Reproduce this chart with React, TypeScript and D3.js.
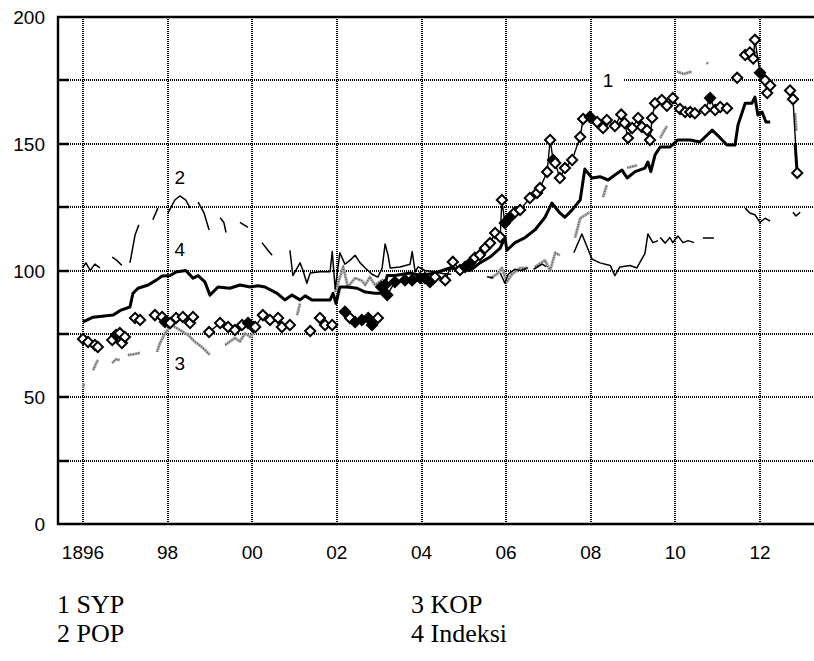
import { useEffect, useRef } from 'react'
import * as d3 from 'd3'

type Pt = [number, number] | null

// years shown on the x axis and their labels
const X_TICKS = [1896, 1898, 1900, 1902, 1904, 1906, 1908, 1910, 1912]
const X_LABELS = ['1896', '98', '00', '02', '04', '06', '08', '10', '12']
const Y_GRID = [25, 50, 75, 100, 125, 150, 175]
const Y_LABELS = [0, 50, 100, 150, 200]

// 1 SYP (diamonds)
const SYP: Pt[] = [
  [1896.0, 73], [1896.12, 71.8], [1896.28, 70.6], [1896.35, 69.8], null,
  [1896.69, 72.6], [1896.78, 74.6], [1896.87, 75.3], [1896.92, 71.4], [1896.99, 73.8], null,
  [1897.23, 81.3], [1897.35, 80.5], null,
  [1897.7, 82.4], [1897.87, 81.7], [1897.94, 79.7], [1898.06, 79.3], [1898.2, 81.3], [1898.36, 81.7], [1898.53, 79.3], [1898.6, 81.7], null,
  [1898.98, 75.7], [1899.24, 79.3], [1899.43, 77.7], [1899.59, 76.5], [1899.76, 78.5], [1899.9, 79.3], [1900.02, 77.7], [1900.07, 77.7],
  [1900.25, 82.4], [1900.42, 80.5], [1900.61, 81.3], [1900.7, 77.7], [1900.89, 78.5], null,
  [1901.37, 76.1], null,
  [1901.6, 81.3], [1901.72, 78.5], [1901.89, 78.5], null,
  [1902.19, 83.7], [1902.31, 81.3], [1902.43, 79.7], [1902.59, 80.5], [1902.74, 81.3], [1902.83, 78.5], [1902.97, 81.3], null,
  [1903.05, 93.5], [1903.14, 94.3], [1903.19, 90.3], [1903.37, 95.5], [1903.61, 96.2], [1903.78, 96.2], [1903.97, 97], [1904.08, 97],
  [1904.2, 95.5], [1904.32, 97.4], [1904.56, 96.2], [1904.74, 103.4], [1904.91, 100.2], [1905.03, 101.4], [1905.15, 103],
  [1905.26, 105], [1905.38, 106.1], [1905.5, 108.8], [1905.62, 110.8], [1905.74, 114.8], [1905.86, 113.2], [1905.9, 127.8],
  [1905.97, 118.7], [1906.09, 121], [1906.21, 123], [1906.33, 123.9], [1906.56, 128.6], [1906.73, 130.6], [1906.8, 132.5],
  [1906.97, 138.9], [1907.04, 151.5], [1907.11, 143.6], [1907.16, 142.4], [1907.27, 136.5], [1907.39, 140.4], [1907.56, 143.6],
  [1907.75, 152.7], [1907.82, 159.8], [1907.98, 160.6], [1908.15, 158.6], [1908.29, 156.2], [1908.38, 159.4], [1908.57, 157],
  [1908.72, 161.5], [1908.8, 158.2], [1908.88, 152.3], [1908.98, 156.2], [1909.12, 160.2], [1909.21, 156.6], [1909.33, 155.4],
  [1909.4, 151.5], [1909.45, 160.2], [1909.52, 166], [1909.68, 167.3], [1909.8, 165], [1909.94, 168], [1910.11, 163.7],
  [1910.23, 162.5], [1910.35, 162.5], [1910.46, 162], [1910.7, 163.3], [1910.82, 168], [1910.94, 163.3], [1911.06, 164.5], [1911.22, 164], null,
  [1911.46, 176], null,
  [1911.65, 185], [1911.76, 186], [1911.84, 183.6], [1911.88, 191], [1912.0, 178], [1912.12, 175], [1912.17, 170], [1912.24, 173], null,
  [1912.71, 171], [1912.78, 167.6], [1912.88, 138.5],
]

// year spans where the printed SYP markers overlap into solid black
const SYP_DENSE: [number, number][] = [
  [1896.75, 1896.8], [1897.92, 1897.96], [1899.88, 1899.92], [1902.15, 1902.22], [1902.4, 1902.9],
  [1903.0, 1904.3], [1905.0, 1905.2], [1905.95, 1906.1], [1907.08, 1907.13], [1907.95, 1908.0],
  [1910.8, 1910.85], [1911.98, 1912.02],
]

// 2 POP (thin line, broken)
const POP: Pt[] = [
  [1896.0, 101.4], [1896.07, 103], [1896.17, 100], [1896.28, 102.5], [1896.4, 101], null,
  [1896.69, 105.3], [1896.8, 104], [1896.92, 102], null,
  [1897.11, 103], [1897.23, 114], [1897.32, 118], null,
  [1897.65, 120], [1897.77, 124.6], null,
  [1898.01, 122.7], [1898.17, 127.8], [1898.29, 129.4], [1898.43, 127.8], [1898.53, 124.6], null,
  [1898.72, 127], [1898.86, 122.7], [1898.98, 116], null,
  [1899.24, 120.8], [1899.33, 118.9], [1899.38, 115], null,
  [1899.71, 119], [1899.9, 117], null,
  [1900.23, 111], [1900.37, 108], [1900.47, 106], null,
  [1900.89, 108], [1900.96, 98], [1901.13, 103], [1901.2, 100], [1901.29, 95], [1901.37, 99], [1901.6, 99.5], [1901.84, 99.5],
  [1901.89, 107.5], [1901.96, 92.7], [1902.07, 107], [1902.19, 102.5], [1902.31, 104], [1902.43, 106], [1902.55, 103],
  [1902.67, 101], [1902.83, 98.5], [1902.97, 97.4], [1903.07, 101], [1903.14, 110.5], [1903.21, 106], [1903.26, 101],
  [1903.49, 101.4], [1903.73, 102.5], [1903.78, 107.5], [1903.85, 99.5], [1903.92, 101.4], [1904.08, 100], [1904.3, 99.5],
  [1904.5, 98.8], [1904.7, 98.5], null,
  [1905.55, 97.5], [1905.7, 97], null,
  [1905.86, 99], [1905.97, 95], [1906.05, 98.5], [1906.2, 100.5], [1906.35, 100], [1906.5, 101], null,
  [1906.65, 100.5], [1906.85, 102.5], [1906.95, 101.5], null,
  [1907.6, 107], [1907.79, 114.4], [1908.03, 104.5], [1908.22, 103], [1908.46, 102], [1908.57, 98], [1908.69, 101.4],
  [1908.93, 102], [1909.09, 101], [1909.28, 106.7], [1909.35, 114.4], [1909.47, 111], [1909.59, 111.8], null,
  [1909.64, 113], [1909.76, 110.8], [1909.87, 113], [1909.94, 111], [1910.06, 113.6], [1910.18, 111], [1910.3, 111.8], [1910.44, 111], null,
  [1910.65, 112.8], [1910.91, 112.8], null,
  [1911.65, 124.6], [1911.76, 122.7], [1911.88, 122], [1912.0, 119], [1912.12, 120.6], [1912.24, 119.5], null,
  [1912.78, 123], [1912.85, 121.5], [1912.95, 123],
]

// 3 KOP (grey dotted, broken)
const KOP: Pt[] = [
  [1896.0, 53.6], [1896.02, 55.5], null,
  [1896.24, 60.7], [1896.3, 63], [1896.35, 64.7], null,
  [1896.69, 63.5], [1896.78, 65], [1896.87, 64.7], null,
  [1897.06, 66.7], [1897.2, 67], [1897.35, 67.5], null,
  [1897.75, 67.9], [1897.82, 71.4], [1897.94, 75.3], [1898.1, 78.5], [1898.29, 76.5], [1898.48, 74.6], [1898.65, 71.8],
  [1898.81, 69.8], [1899.0, 66.7], null,
  [1899.36, 70.6], [1899.59, 73.4], [1899.71, 72], [1899.83, 75.3], [1899.95, 73.8], [1900.09, 76.5], null,
  [1901.06, 82.4], [1901.13, 87], null,
  [1901.96, 91.5], [1902.15, 101.4], [1902.26, 93.5], [1902.43, 97], [1902.59, 96], [1902.67, 94.3], [1902.78, 97.4],
  [1902.9, 94.3], [1903.1, 96.5], null,
  [1905.62, 97], [1905.78, 98.5], [1905.9, 101], [1906.02, 95.5], [1906.14, 98.5], [1906.33, 101], [1906.52, 101], null,
  [1906.68, 101.4], [1906.92, 104], [1907.04, 100], [1907.16, 107], [1907.27, 106], null,
  [1907.63, 113], [1907.75, 120.6], [1907.98, 123], null,
  [1908.29, 129], [1908.38, 133.7], null,
  [1908.86, 140.5], [1909.1, 141.5], null,
  [1909.64, 152.3], [1909.8, 157], null,
  [1910.04, 178.5], [1910.2, 177.5], [1910.39, 178.5], null,
  [1910.74, 182], [1910.78, 181.5], null,
  [1912.83, 162], [1912.86, 155],
]

// 4 Indeksi (thick line)
const INDEKSI: Pt[] = [
  [1896.0, 79.7], [1896.24, 81.6], [1896.71, 82.4], [1896.9, 84.4], [1897.11, 85.6], [1897.18, 91], [1897.3, 93],
  [1897.54, 94.3], [1897.73, 96.2], [1897.87, 97.8], [1898.06, 98], [1898.2, 99.4], [1898.43, 100], [1898.6, 97],
  [1898.72, 98], [1898.88, 95.5], [1899.0, 90.3], [1899.19, 93.5], [1899.47, 93], [1899.71, 94.3], [1899.95, 93.5],
  [1900.14, 94], [1900.3, 93.5], [1900.59, 91], [1900.77, 88.4], [1900.94, 90.3], [1901.13, 88.4], [1901.25, 90],
  [1901.41, 88.4], [1901.84, 88.4], [1901.91, 91], [1901.98, 87], [1902.07, 93.5], [1902.24, 93.5], [1902.48, 93],
  [1902.67, 91.5], [1902.9, 91], [1903.09, 91], [1903.19, 98], [1903.37, 98], [1903.73, 99], [1903.97, 98],
  [1904.32, 99], [1904.67, 101], [1905.15, 100], [1905.38, 103], [1905.62, 105.3], [1905.86, 108.8], [1905.97, 113],
  [1906.02, 108], [1906.21, 111], [1906.45, 113], [1906.68, 116], [1906.92, 121], [1907.08, 126.6], [1907.27, 122.7],
  [1907.39, 121], [1907.56, 123.9], [1907.75, 127.8], [1907.86, 140], [1908.03, 136.5], [1908.22, 137], [1908.41, 135.7],
  [1908.57, 137.7], [1908.74, 139.6], [1908.86, 136.5], [1909.05, 139], [1909.28, 140.4], [1909.35, 142.8], [1909.42, 139],
  [1909.52, 145.6], [1909.64, 148.7], [1909.87, 148.7], [1910.06, 151.5], [1910.35, 151.5], [1910.58, 150.7], [1910.87, 155.4],
  [1911.06, 152.3], [1911.22, 149.5], [1911.41, 149.5], [1911.48, 157.4], [1911.65, 166], [1911.81, 166], [1911.88, 168.4],
  [1911.95, 161.3], [1912.05, 162.5], [1912.14, 158.6], [1912.24, 158.6], null,
  [1912.83, 150], [1912.88, 138],
]

const SERIES_LABELS = [
  { text: '1', t: 1908.41, v: 175, box: true },
  { text: '2', t: 1898.29, v: 137 },
  { text: '4', t: 1898.29, v: 108.5 },
  { text: '3', t: 1898.29, v: 63.5 },
]

const LEGEND = [
  ['1 SYP', '3 KOP'],
  ['2 POP', '4 Indeksi'],
]

export default function App() {
  const ref = useRef<SVGSVGElement>(null)

  useEffect(() => {
    if (!ref.current) return
    const svg = d3.select(ref.current)
    svg.selectAll('*').remove()

    const x = d3.scaleLinear().domain([1896, 1912]).range([83, 760])
    const y = d3.scaleLinear().domain([0, 200]).range([524, 17])
    const left = 58
    const right = 820
    const r = (n: number) => Math.round(n)

    const g = svg.append('g')

    // dotted grid
    Y_GRID.forEach(v => {
      g.append('line')
        .attr('x1', left).attr('x2', right)
        .attr('y1', r(y(v))).attr('y2', r(y(v)))
        .attr('stroke', '#000').attr('stroke-width', 2)
        .attr('stroke-dasharray', '1,1')
        .attr('shape-rendering', 'crispEdges')
    })
    X_TICKS.forEach(t => {
      g.append('line')
        .attr('x1', r(x(t))).attr('x2', r(x(t)))
        .attr('y1', y(200)).attr('y2', y(0))
        .attr('stroke', '#000').attr('stroke-width', 2)
        .attr('stroke-dasharray', '1,1')
        .attr('shape-rendering', 'crispEdges')
    })

    // frame
    g.append('path')
      .attr('d', `M${right},${r(y(200))}H${left}V${r(y(0))}H${right}`)
      .attr('fill', 'none').attr('stroke', '#000').attr('stroke-width', 2.4)
    Y_GRID.forEach(v => {
      g.append('line')
        .attr('x1', left).attr('x2', left + 11)
        .attr('y1', r(y(v))).attr('y2', r(y(v)))
        .attr('stroke', '#000').attr('stroke-width', 2.5)
    })

    // axis labels
    X_TICKS.forEach((t, i) => {
      g.append('text')
        .attr('x', x(t)).attr('y', 559)
        .attr('text-anchor', 'middle')
        .attr('font-family', 'Liberation Sans, Arial, sans-serif')
        .attr('font-size', 19)
        .text(X_LABELS[i])
    })
    Y_LABELS.forEach(v => {
      g.append('text')
        .attr('x', 45).attr('y', y(v) + 7)
        .attr('text-anchor', 'end')
        .attr('font-family', 'Liberation Sans, Arial, sans-serif')
        .attr('font-size', 19)
        .text(v)
    })

    const line = d3.line<Pt>()
      .defined(d => d !== null)
      .x(d => x(d![0]))
      .y(d => y(d![1]))

    // 3 KOP
    g.append('path').attr('d', line(KOP))
      .attr('fill', 'none').attr('stroke', '#b0b0b0').attr('stroke-width', 3)
      .attr('stroke-linejoin', 'round')
    g.append('path').attr('d', line(KOP))
      .attr('fill', 'none').attr('stroke', '#555').attr('stroke-width', 1.5)
      .attr('stroke-dasharray', '1,1.6')

    // 2 POP
    g.append('path').attr('d', line(POP))
      .attr('fill', 'none').attr('stroke', '#000').attr('stroke-width', 1.5)
      .attr('stroke-linejoin', 'round')

    // 4 Indeksi
    g.append('path').attr('d', line(INDEKSI))
      .attr('fill', 'none').attr('stroke', '#000').attr('stroke-width', 3)
      .attr('stroke-linejoin', 'round')

    // 1 SYP
    g.append('path').attr('d', line(SYP))
      .attr('fill', 'none').attr('stroke', '#000').attr('stroke-width', 1.4)
    const dense = (t: number) => SYP_DENSE.some(([a, b]) => t >= a && t <= b)
    const diamond = d3.symbol(d3.symbolSquare, 52)()
    g.selectAll('path.syp')
      .data(SYP.filter((d): d is [number, number] => d !== null))
      .join('path')
      .attr('class', 'syp')
      .attr('d', diamond)
      .attr('transform', d => `translate(${x(d[0])},${y(d[1])}) rotate(45)`)
      .attr('fill', d => (dense(d[0]) ? '#000' : '#fff'))
      .attr('stroke', '#000').attr('stroke-width', 2)

    // series numbers
    SERIES_LABELS.forEach(l => {
      if (l.box) {
        g.append('rect')
          .attr('x', x(l.t) - 16).attr('y', y(l.v) - 12)
          .attr('width', 32).attr('height', 22)
          .attr('fill', '#fff')
      }
      g.append('text')
        .attr('x', x(l.t)).attr('y', y(l.v) + 7)
        .attr('text-anchor', 'middle')
        .attr('font-family', 'Liberation Sans, Arial, sans-serif')
        .attr('font-size', 19)
        .text(l.text)
    })

    // legend
    LEGEND.forEach((row, ri) => {
      row.forEach((txt, c) => {
        g.append('text')
          .attr('x', c === 0 ? 57 : 411).attr('y', 613 + ri * 29)
          .attr('font-family', 'Liberation Serif, Times New Roman, serif')
          .attr('font-size', 26)
          .text(txt)
      })
    })
  }, [])

  return (
    <svg ref={ref} width={814} height={661}
      style={{ position: 'absolute', left: 0, top: 0, background: '#fff' }} />
  )
}
